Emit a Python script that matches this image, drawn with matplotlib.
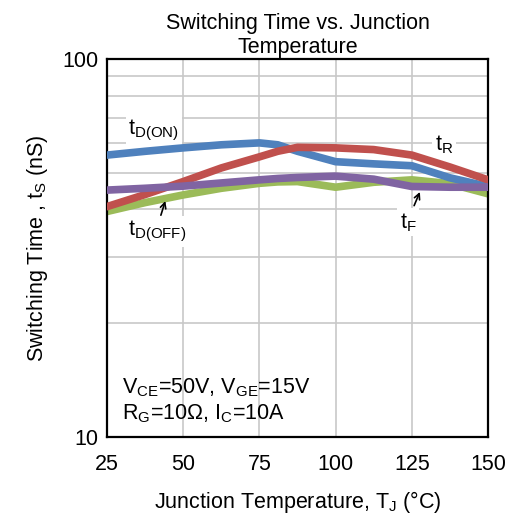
import matplotlib
matplotlib.use('Agg')
import matplotlib.pyplot as plt
from matplotlib.ticker import FixedLocator, NullFormatter

plt.rcParams['font.family'] = ['Liberation Sans', 'DejaVu Sans']
plt.rcParams['mathtext.default'] = 'regular'

# temperatures (deg C) and switching times (nS)
temp = [25, 37.5, 50, 62.5, 75, 81, 87.5, 100, 112.5, 125, 137.5, 150]
t_don = [55.7, 57.0, 58.2, 59.3, 60.0, 59.3, 57.0, 53.5, 52.8, 52.2, 48.5, 46.0]
t_r = [40.7, 43.8, 47.4, 51.5, 55.1, 57.0, 58.4, 58.2, 57.6, 55.7, 51.8, 47.9]
t_doff = [39.5, 41.7, 43.7, 45.5, 46.9, 47.3, 47.4, 45.8, 47.2, 47.9, 46.8, 44.0]
t_f = [45.0, 45.5, 46.1, 47.0, 47.9, 48.3, 48.6, 49.0, 48.1, 46.0, 45.8, 45.8]

x_ticks = [25, 50, 75, 100, 125, 150]
y_ticks = [10, 100]

fig = plt.figure(figsize=(5.18, 5.20), dpi=100)
ax = fig.add_axes([0.2066, 0.1596, 0.7355, 0.7269])

ax.plot(temp, t_don, color='#4F81BD', lw=5.5, solid_joinstyle='round', zorder=3)
ax.plot(temp, t_r, color='#C0504D', lw=5.5, solid_joinstyle='round', zorder=3)
ax.plot(temp, t_doff, color='#9BBB59', lw=5.5, solid_joinstyle='round', zorder=2)
ax.plot(temp, t_f, color='#8064A2', lw=5.5, solid_joinstyle='round', zorder=4)

ax.set_yscale('log')
ax.set_xlim(25, 150)
ax.set_ylim(10, 100)
ax.set_xticks(x_ticks)
ax.yaxis.set_major_locator(FixedLocator(y_ticks))
ax.set_yticklabels([str(v) for v in y_ticks])
ax.yaxis.set_minor_locator(FixedLocator([20, 30, 40, 50, 60, 70, 80, 90]))
ax.yaxis.set_minor_formatter(NullFormatter())
ax.tick_params(which='both', length=0, labelsize=15.5)
ax.tick_params(axis='x', pad=12)
ax.tick_params(axis='y', pad=6)
ax.grid(True, which='both', color='#c8c8c8', lw=1.2)
ax.set_axisbelow(True)
for s in ax.spines.values():
    s.set_linewidth(1.6)

ax.set_title('Switching Time vs. Junction\nTemperature', fontsize=15.5, pad=4, linespacing=1.2)
ax.set_xlabel('Junction Temperature, T$_J$ (°C)', fontsize=15.5, labelpad=10)
ax.set_ylabel('Switching Time , t$_S$ (nS)', fontsize=15.5, labelpad=9)

# labels sit over the grid but under the curves
box = dict(facecolor='white', edgecolor='none', pad=2)
ax.text(32, 64.9, 't$_{D(ON)}$', fontsize=15.5, va='center', bbox=box, zorder=1.5)
ax.text(132.6, 59.3, 't$_R$', fontsize=15.5, va='center', bbox=box, zorder=1.5)
ax.text(31.9, 34.9, 't$_{D(OFF)}$', fontsize=15.5, va='center', bbox=box, zorder=1.5)
ax.text(121, 37.0, 't$_F$', fontsize=15.5, va='center', bbox=box, zorder=1.5)
ax.annotate('', xy=(44.4, 42.8), xytext=(42.4, 38.0),
            arrowprops=dict(arrowstyle='->', color='black', lw=1.2), zorder=6)
ax.annotate('', xy=(128, 45.2), xytext=(125.4, 40.3),
            arrowprops=dict(arrowstyle='->', color='black', lw=1.2), zorder=6)

ax.text(30, 13.5, 'V$_{CE}$=50V, V$_{GE}$=15V', fontsize=15.5, va='center')
ax.text(30, 11.5, 'R$_G$=10Ω, I$_C$=10A', fontsize=15.5, va='center')

plt.savefig('out.png', dpi=100)
